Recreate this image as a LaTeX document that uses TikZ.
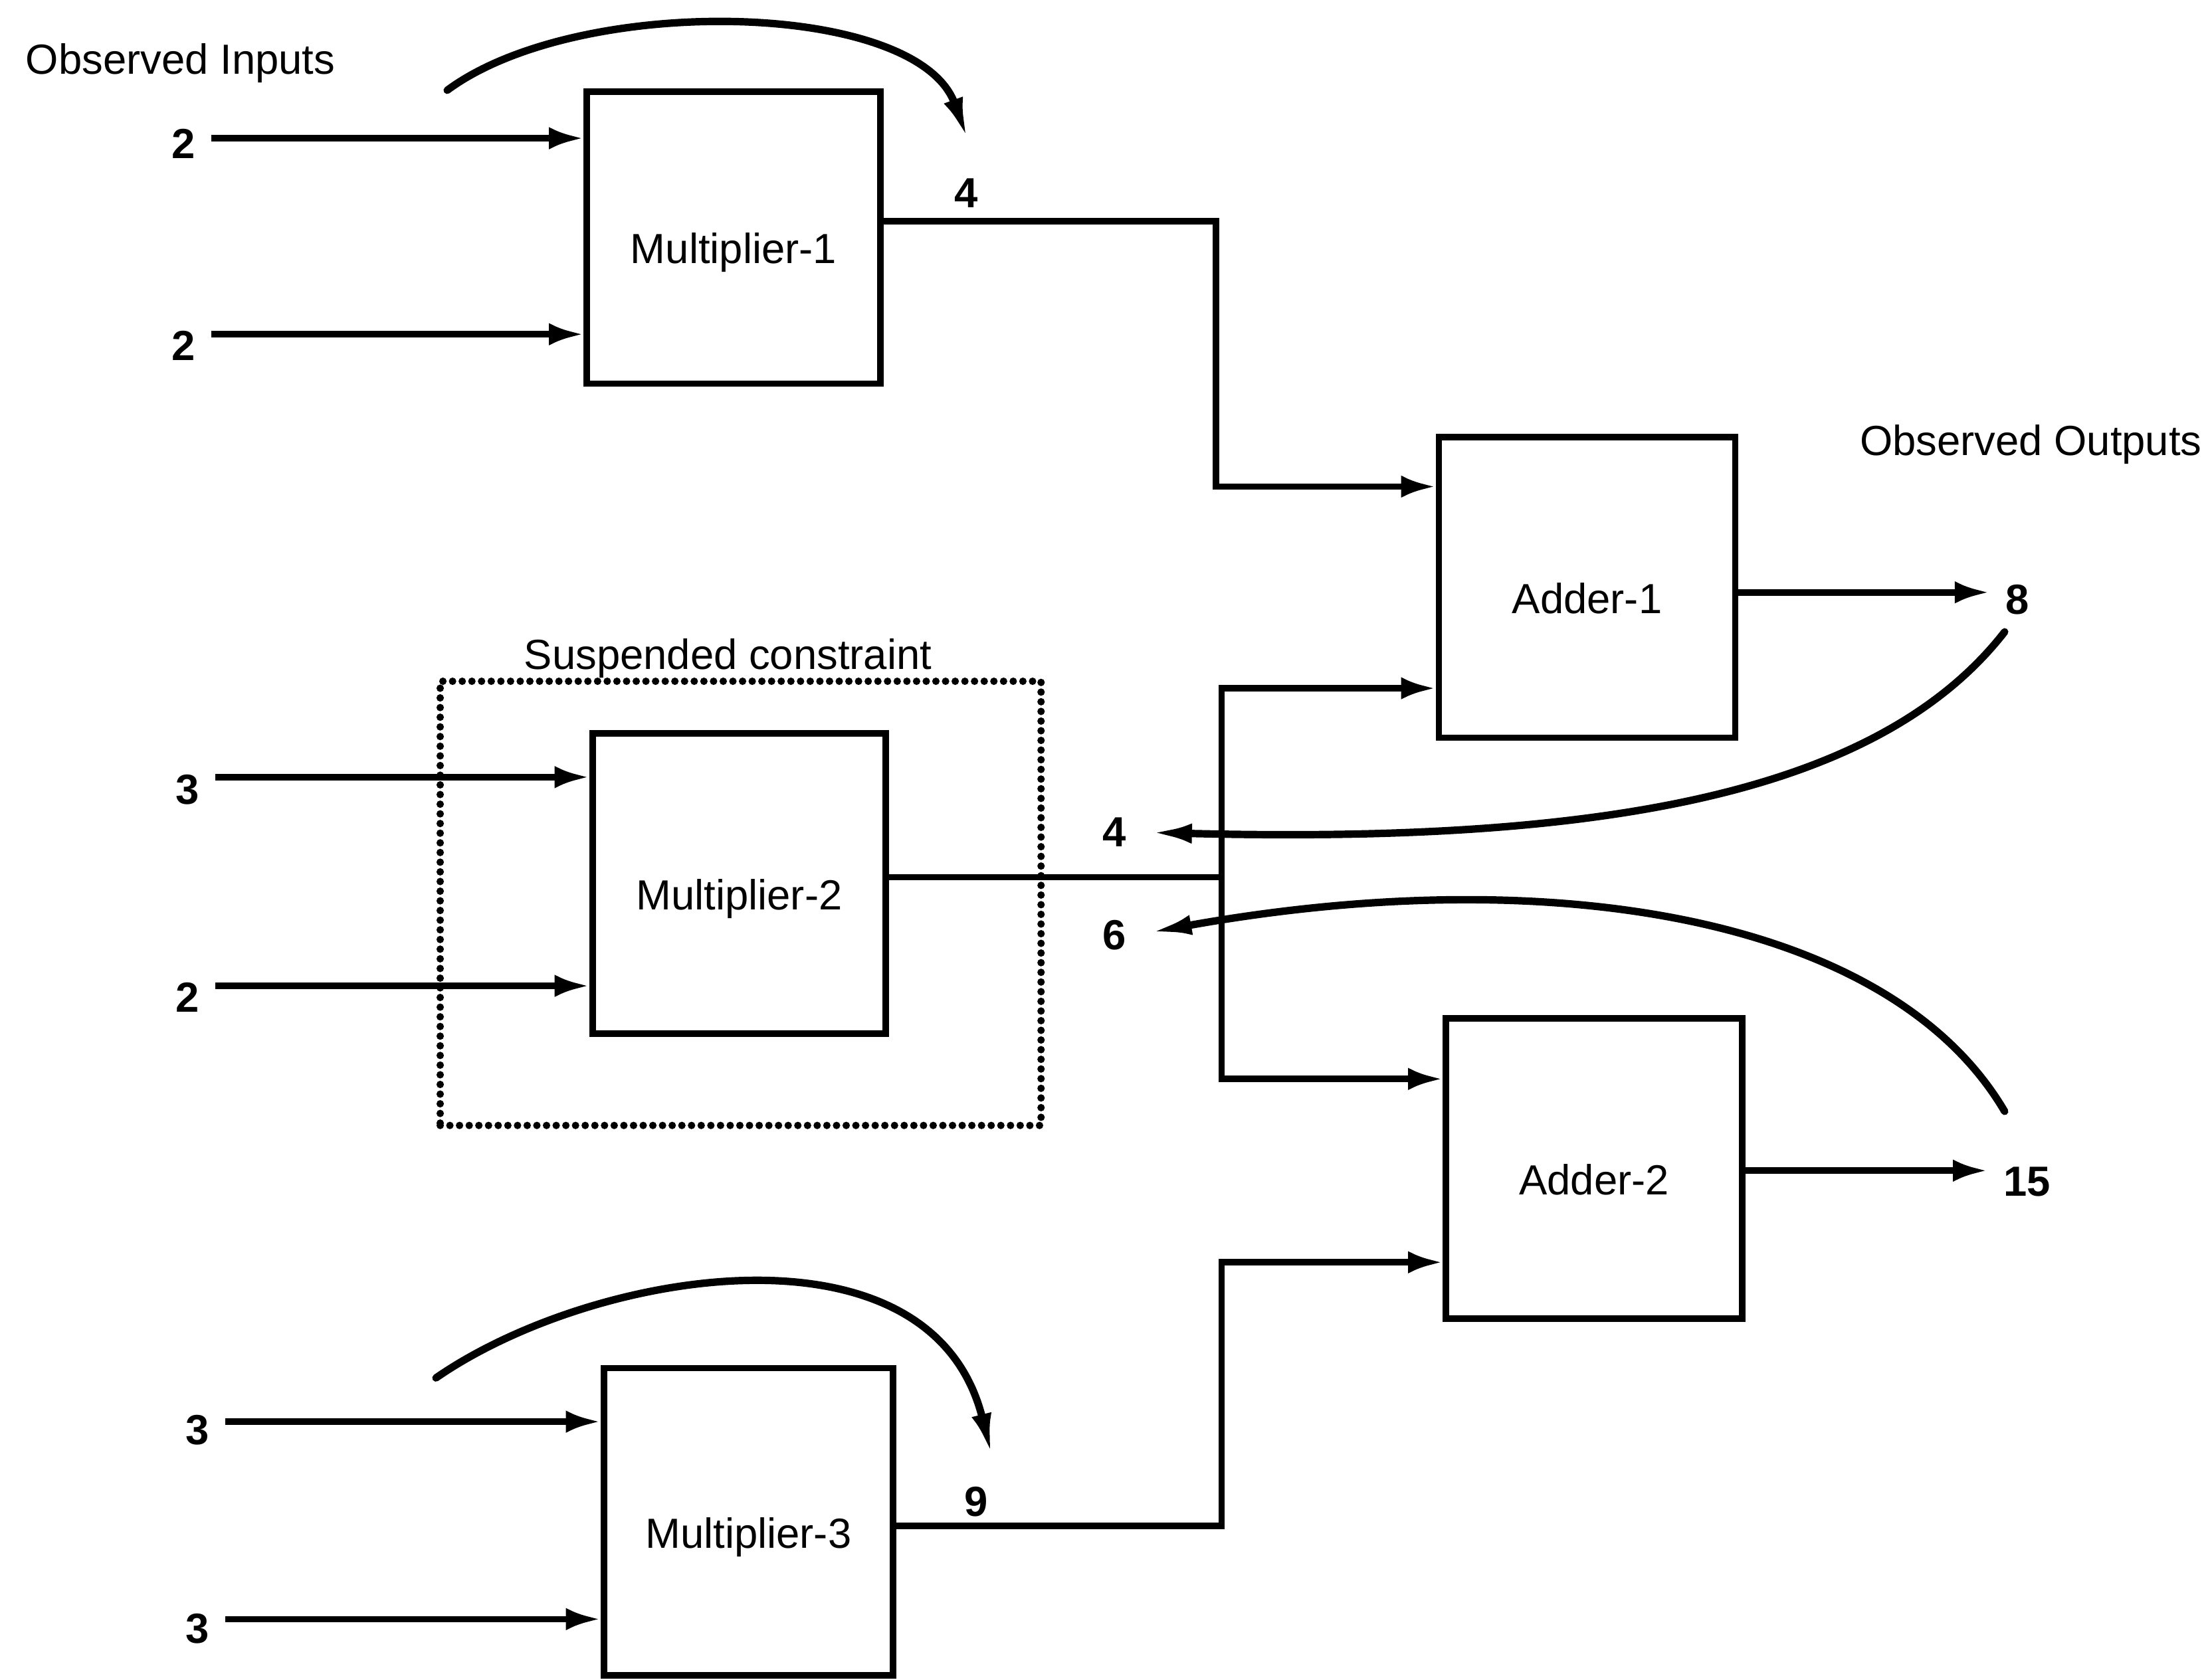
\documentclass[tikz,border=0pt]{standalone}
\usepackage{fontspec}
\setmainfont{Liberation Sans}
\usetikzlibrary{arrows.meta}
\begin{document}
\begin{tikzpicture}[x=0.02cm, y=-0.02cm,
  box/.style={draw, line width=2.6pt, inner sep=0pt, text height=25pt, text depth=4pt,
    font=\fontsize{17}{20}\selectfont},
  wire/.style={line width=2.6pt, line join=miter},
  feed/.style={wire, -{Latex[length=14pt,width=9pt]}},
  num/.style={font=\bfseries\fontsize{17}{20}\selectfont},
  lbl/.style={inner sep=0pt, font=\fontsize{17}{20}\selectfont},
  flow/.style={line width=3pt, line cap=round, -{Latex[length=17pt,width=8pt]}},
  susp/.style={draw, line width=3pt, line cap=round, dash pattern=on 0pt off 3.9pt}
]
\useasboundingbox (0,0) rectangle (1568,1191);

% suspended constraint frame
\node[susp, minimum width=8.52cm, minimum height=6.30cm] (sc) at (525,640.5) {};
\node[lbl] (sclab) at (516,467) {Suspended constraint};

% components
\node[box, minimum width=4.16cm, minimum height=4.14cm] (m1) at (520,168.5) {Multiplier-1};
\node[box, minimum width=4.16cm, minimum height=4.26cm] (m2) at (524,626.5) {Multiplier-2};
\node[box, minimum width=4.10cm, minimum height=4.36cm] (m3) at (530.5,1079) {Multiplier-3};
\node[box, minimum width=4.20cm, minimum height=4.26cm] (a1) at (1125,416.5) {Adder-1};
\node[box, minimum width=4.20cm, minimum height=4.26cm] (a2) at (1130,828.5) {Adder-2};

% headings
\node[lbl, anchor=west] (obin) at (18,45) {Observed Inputs};
\node[lbl, anchor=west] (obout) at (1318,315) {Observed Outputs};

% values
\node[num] (i1) at (130,102) {2};
\node[num] (i2) at (130,245) {2};
\node[num] (i3) at (133,560) {3};
\node[num] (i4) at (133,707) {2};
\node[num] (i5) at (140,1014) {3};
\node[num] (i6) at (140,1155) {3};
\node[num] (o1) at (1430,425) {8};
\node[num] (o2) at (1437,838) {15};
\node[num] (v1) at (685,137) {4};
\node[num] (v2) at (790,590) {4};
\node[num] (v3) at (790,663) {6};
\node[num] (v4) at (692,1065) {9};

% inputs
\draw[feed, shorten <=3pt] (i1.east |- 0,98) -- (m1.west |- 0,98);
\draw[feed, shorten <=3pt] (i2.east |- 0,237) -- (m1.west |- 0,237);
\draw[feed, shorten <=3pt] (i3.east |- 0,551) -- (m2.west |- 0,551);
\draw[feed, shorten <=3pt] (i4.east |- 0,699) -- (m2.west |- 0,699);
\draw[feed, shorten <=3pt] (i5.east |- 0,1008) -- (m3.west |- 0,1008);
\draw[feed, shorten <=3pt] (i6.east |- 0,1148) -- (m3.west |- 0,1148);

% internal wiring
\draw[feed] (m1.east |- 0,157) -| (862,345) -- (a1.west |- 0,345);
\coordinate (j2) at (866,622);
\draw[wire] (m2.east |- j2) -- (j2);
\draw[feed] (j2) |- (a1.west |- 0,488);
\draw[feed] (j2) |- (a2.west |- 0,765);
\draw[feed] (m3.east |- 0,1082) -| (866,895) -- (a2.west |- 0,895);

% outputs
\draw[feed, shorten >=3pt] (a1.east |- 0,420) -- (o1.west |- 0,420);
\draw[feed, shorten >=3pt] (a2.east |- 0,830) -- (o2.west |- 0,830);

% propagation arcs
\coordinate (c1s) at (317,64);
\coordinate (c1e) at (686,99);
\draw[flow] (c1s) .. controls (410,-5) and (650,0) .. (c1e);
\coordinate (c2s) at (1421,448);
\draw[flow, shorten >=6pt] (c2s) .. controls (1330,565) and (1130,598) .. (v2.east);
\coordinate (c3s) at (1421,788);
\draw[flow, shorten >=6pt] (c3s) .. controls (1340,650) and (1100,610) .. (v3.east);
\coordinate (c4s) at (309,977);
\coordinate (c4e) at (703,1032);
\draw[flow] (c4s) .. controls (420,900) and (660,860) .. (c4e);
\end{tikzpicture}
\end{document}
